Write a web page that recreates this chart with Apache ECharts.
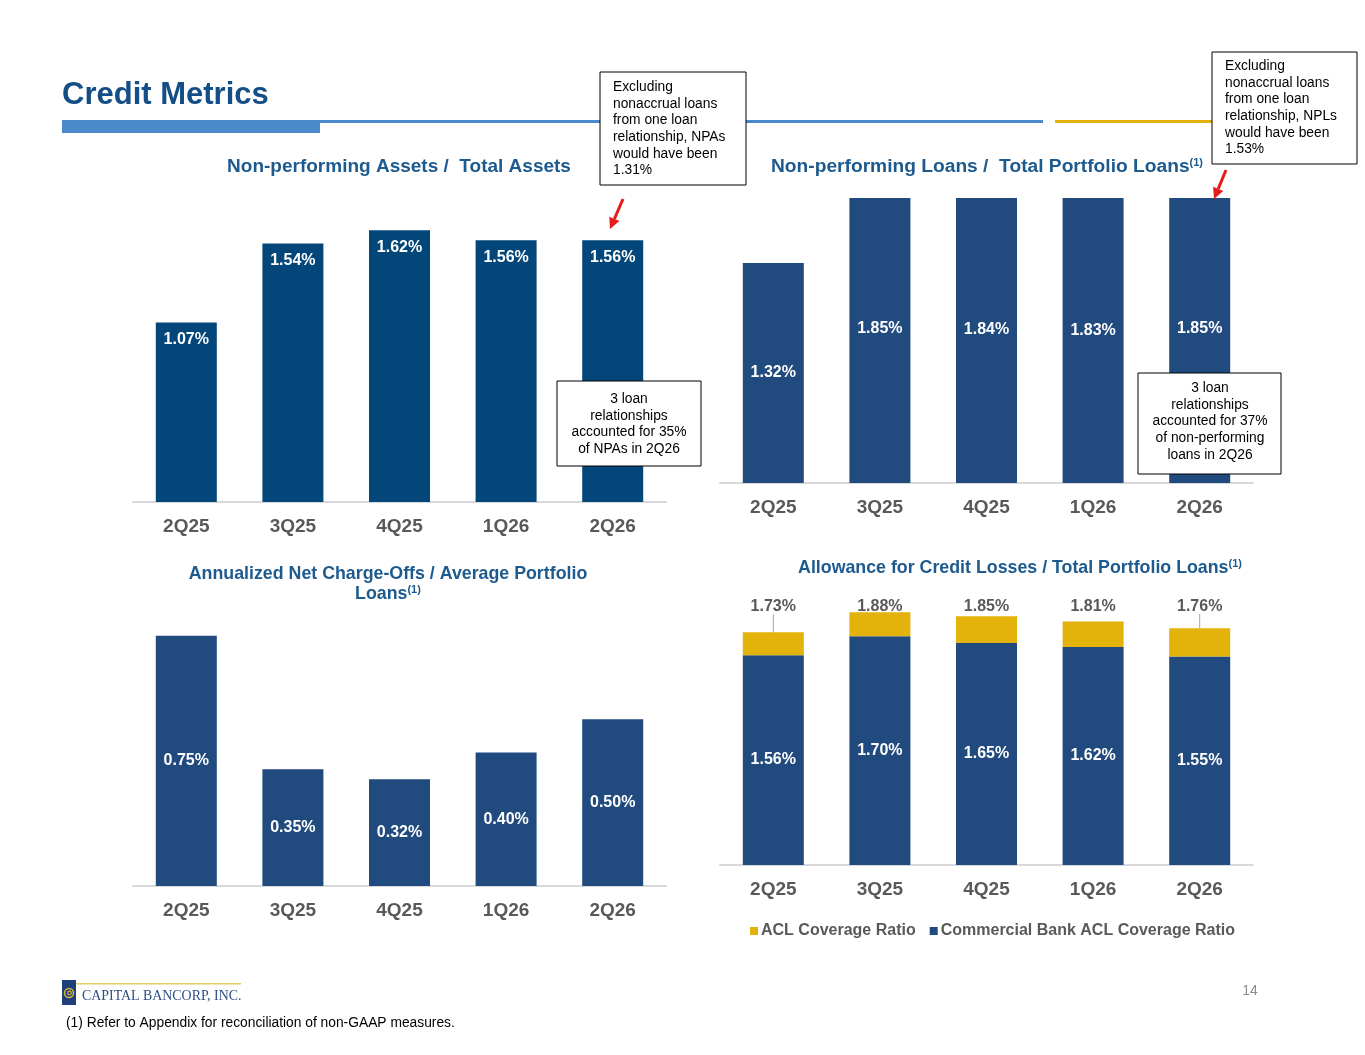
<!DOCTYPE html>
<html>
<head>
<meta charset="utf-8">
<script src="https://cdn.jsdelivr.net/npm/echarts@6/dist/echarts.min.js"></script>
<style>
  html, body { margin: 0; padding: 0; background: #fff; }
  #chart { width: 1365px; height: 1055px; }
</style>
</head>
<body>
<div id="chart"></div>
<script>
// quarters shown on every panel
const categories = ['2Q25', '3Q25', '4Q25', '1Q26', '2Q26'];
// NPAs / total assets (%)
const npaRatio = [1.07, 1.54, 1.62, 1.56, 1.56];
// NPLs / total portfolio loans (%)
const nplRatio = [1.32, 1.85, 1.84, 1.83, 1.85];
// annualized NCOs / average portfolio loans (%)
const ncoRatio = [0.75, 0.35, 0.32, 0.40, 0.50];
// ACL / total portfolio loans (%)
const aclRatio = [1.73, 1.88, 1.85, 1.81, 1.76];
const bankAclRatio = [1.56, 1.70, 1.65, 1.62, 1.55];

const FONT = 'Arial, "Liberation Sans", sans-serif';
const NAVY = '#214A7E';
const NPA_BLUE = '#03477A';
const GOLD = '#E3B20B';
const TITLE_BLUE = '#1D5A8E';
const GRAY = '#595959';
const RED = '#E41B1B';
const LINE_BLUE = '#4A8ACA';

// one grid per panel: [npa, npl, nco, acl]
const grids = [
    { left: 133, top: 200, width: 533, height: 302 },
    { left: 720, top: 198, width: 533, height: 285 },
    { left: 133, top: 619, width: 533, height: 267 },
    { left: 720, top: 596, width: 533, height: 269 }
];
const yMax = [1.8, 1.71, 0.8, 2.0];

const pct = p => p.value.toFixed(2) + '%';
const whiteLabel = {
    show: true, color: '#fff', fontFamily: FONT, fontWeight: 'bold', fontSize: 16, formatter: pct
};

// gold part of the stacked bar = total ACL minus commercial bank ACL
const aclTop = aclRatio.map((t, i) => +(t - bankAclRatio[i]).toFixed(2));
const aclPx = grids[3].height / yMax[3];
const aclPeak = Math.max(...aclRatio);

function arrow(x1, y1, x2, y2) {
    const dx = x2 - x1, dy = y2 - y1, len = Math.hypot(dx, dy);
    const ux = dx / len, uy = dy / len, hl = 11, hw = 5.5;
    const bx = x2 - ux * hl, by = y2 - uy * hl;
    return [
        { type: 'line', z: 100, shape: { x1: x1, y1: y1, x2: bx, y2: by }, style: { stroke: RED, lineWidth: 3 } },
        { type: 'polygon', z: 100, shape: { points: [[x2, y2], [bx - uy * hw, by + ux * hw], [bx + uy * hw, by - ux * hw]] }, style: { fill: RED } }
    ];
}

function note(x, y, w, h, text, align, tx, ty) {
    return [
        { type: 'rect', z: 100, shape: { x: x, y: y, width: w, height: h }, style: { fill: '#fff', stroke: '#000', lineWidth: 1 } },
        { type: 'text', z: 101, x: tx, y: ty, style: {
            text: text, fill: '#000', fontFamily: FONT, fontSize: 13.8, lineHeight: 16.6,
            align: align, verticalAlign: 'top'
        } }
    ];
}

function heading(x, y, text, size) {
    return { type: 'text', z: 100, x: x, y: y, style: {
        text: text, fill: TITLE_BLUE, fontFamily: FONT, fontWeight: 'bold', fontSize: size,
        align: 'center', verticalAlign: 'middle',
        rich: { s: { fontSize: 11, fontWeight: 'bold', fill: TITLE_BLUE, fontFamily: FONT, verticalAlign: 'top', padding: [0, 0, 8, 0] } }
    } };
}

const graphics = [
    { type: 'text', z: 100, x: 62, y: 95, style: { text: 'Credit Metrics', fill: '#134E86', fontFamily: FONT, fontWeight: 'bold', fontSize: 31, verticalAlign: 'middle' } },
    { type: 'rect', z: 100, shape: { x: 62, y: 120, width: 258, height: 13 }, style: { fill: LINE_BLUE } },
    { type: 'rect', z: 100, shape: { x: 320, y: 120, width: 723, height: 3 }, style: { fill: LINE_BLUE } },
    { type: 'rect', z: 100, shape: { x: 1055, y: 120, width: 200, height: 3 }, style: { fill: GOLD } },

    heading(399, 167, 'Non-performing Assets /  Total Assets', 19),
    heading(987, 167, 'Non-performing Loans /  Total Portfolio Loans{s|(1)}', 19.2),
    heading(388, 574, 'Annualized Net Charge-Offs / Average Portfolio', 17.8),
    heading(388, 594, 'Loans{s|(1)}', 17.8),
    heading(1020, 568, 'Allowance for Credit Losses / Total Portfolio Loans{s|(1)}', 17.8),

    ...note(600, 72, 146, 113, 'Excluding\nnonaccrual loans\nfrom one loan\nrelationship, NPAs\nwould have been\n1.31%', 'left', 613, 79),
    ...note(1212, 52, 145, 112, 'Excluding\nnonaccrual loans\nfrom one loan\nrelationship, NPLs\nwould have been\n1.53%', 'left', 1225, 58),
    ...note(557, 381, 144, 85, '3 loan\nrelationships\naccounted for 35%\nof NPAs in 2Q26', 'center', 629, 391),
    ...note(1138, 373, 143, 101, '3 loan\nrelationships\naccounted for 37%\nof non-performing\nloans in 2Q26', 'center', 1210, 380),
    ...arrow(623, 199, 610, 229),
    ...arrow(1226, 170, 1214, 199),

    // footer logo
    { type: 'rect', z: 100, shape: { x: 62, y: 980, width: 14, height: 25 }, style: { fill: '#1F3F7A' } },
    { type: 'circle', z: 101, shape: { cx: 69, cy: 993, r: 4.5 }, style: { fill: 'none', stroke: '#D9B63A', lineWidth: 1.5 } },
    { type: 'circle', z: 101, shape: { cx: 69.5, cy: 993, r: 1.8 }, style: { fill: 'none', stroke: '#D9B63A', lineWidth: 1.2 } },
    { type: 'rect', z: 100, shape: { x: 76, y: 983, width: 165, height: 1.5 }, style: { fill: '#E1CC6A' } },
    { type: 'text', z: 100, x: 82, y: 996, style: { text: 'CAPITAL BANCORP, INC.', fill: '#2E4F85', fontFamily: '"Liberation Serif", "DejaVu Serif", serif', fontSize: 13.9, verticalAlign: 'middle' } },
    { type: 'text', z: 100, x: 1250, y: 991, style: { text: '14', fill: '#8C8C8C', fontFamily: FONT, fontSize: 14, align: 'center', verticalAlign: 'middle' } },
    { type: 'text', z: 100, x: 66, y: 1023, style: { text: '(1) Refer to Appendix for reconciliation of non-GAAP measures.', fill: '#000', fontFamily: FONT, fontSize: 13.8, verticalAlign: 'middle' } }
];

const chart = echarts.init(document.getElementById('chart'));

chart.setOption({
    animation: false,
    backgroundColor: '#fff',
    grid: grids,
    xAxis: grids.map((g, i) => ({
        type: 'category',
        gridIndex: i,
        data: categories,
        axisLine: { lineStyle: { color: '#D9D9D9', width: 2 } },
        axisTick: { show: false },
        axisLabel: { fontFamily: FONT, fontSize: 19, fontWeight: 'bold', color: GRAY, margin: 15 }
    })),
    yAxis: grids.map((g, i) => ({
        type: 'value', gridIndex: i, min: 0, max: yMax[i], show: false, splitLine: { show: false }
    })),
    legend: {
        data: ['ACL Coverage Ratio', 'Commercial Bank ACL Coverage Ratio'],
        left: 745, top: 918,
        icon: 'rect', itemWidth: 8, itemHeight: 8, itemGap: 14,
        textStyle: { fontFamily: FONT, fontSize: 16, fontWeight: 'bold', color: GRAY, padding: [0, 0, 0, -2] }
    },
    graphic: { elements: graphics },
    series: [
        {
            type: 'bar', xAxisIndex: 0, yAxisIndex: 0, data: npaRatio, barWidth: 61,
            itemStyle: { color: NPA_BLUE },
            label: Object.assign({ position: 'insideTop', distance: 9 }, whiteLabel)
        },
        {
            // bars run past the panel top and are cut off there
            type: 'bar', xAxisIndex: 1, yAxisIndex: 1, data: nplRatio, barWidth: 61, barGap: '-100%',
            itemStyle: { color: NAVY }, clip: true
        },
        {
            // unclipped ghost of the same bars, only to centre the labels on the full value
            type: 'bar', xAxisIndex: 1, yAxisIndex: 1, data: nplRatio, barWidth: 61, barGap: '-100%',
            itemStyle: { color: 'rgba(0,0,0,0)' }, clip: false, silent: true, z: 3,
            label: Object.assign({ position: 'inside' }, whiteLabel)
        },
        {
            type: 'bar', xAxisIndex: 2, yAxisIndex: 2, data: ncoRatio, barWidth: 61,
            itemStyle: { color: NAVY },
            label: Object.assign({ position: 'inside' }, whiteLabel)
        },
        {
            name: 'Commercial Bank ACL Coverage Ratio',
            type: 'bar', xAxisIndex: 3, yAxisIndex: 3, stack: 'acl', data: bankAclRatio, barWidth: 61,
            itemStyle: { color: NAVY },
            label: Object.assign({ position: 'inside' }, whiteLabel)
        },
        {
            name: 'ACL Coverage Ratio',
            type: 'bar', xAxisIndex: 3, yAxisIndex: 3, stack: 'acl', barWidth: 61,
            data: aclTop.map((v, i) => ({
                value: v,
                labelLine: { show: (aclPeak - aclRatio[i]) * aclPx > 12 }
            })),
            itemStyle: { color: GOLD },
            label: {
                show: true, position: 'top', distance: -2,
                color: GRAY, fontFamily: FONT, fontWeight: 'bold', fontSize: 16,
                formatter: p => aclRatio[p.dataIndex].toFixed(2) + '%'
            },
            labelLine: { lineStyle: { color: '#A6A6A6', width: 1 } },
            labelLayout: p => ({ dy: -(aclPeak - aclRatio[p.dataIndex]) * aclPx })
        }
    ]
});
</script>
</body>
</html>
